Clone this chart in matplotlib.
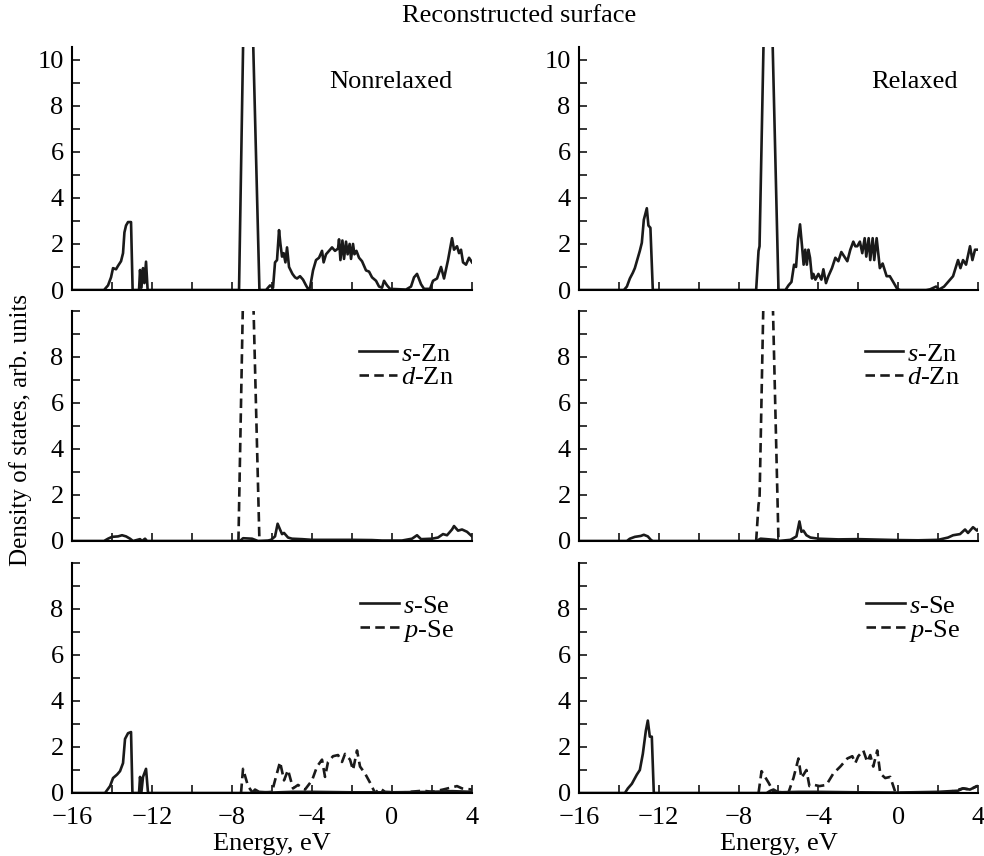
import numpy as np
import matplotlib
matplotlib.use("Agg")
import matplotlib.pyplot as plt
from matplotlib.ticker import MultipleLocator

plt.rcParams["font.family"] = ["Liberation Serif", "DejaVu Serif"]
plt.rcParams["mathtext.fontset"] = "custom"
plt.rcParams["mathtext.rm"] = "Liberation Serif"
plt.rcParams["mathtext.it"] = "Liberation Serif:italic"
plt.rcParams["font.size"] = 19

# (energy eV, DOS)
total_nonrel = np.array([
    (-16, 0), (-14.4, 0), (-14.2, 0.2), (-14.05, 0.55), (-13.95, 0.95), (-13.8, 0.9), (-13.7, 1.05),
    (-13.55, 1.25), (-13.45, 1.6), (-13.38, 2.5), (-13.3, 2.8), (-13.2, 2.95), (-13.05, 2.95),
    (-12.97, 0), (-12.65, 0), (-12.6, 0.87), (-12.53, 0.1), (-12.45, 0.95), (-12.38, 0.3),
    (-12.3, 1.23), (-12.22, 0), (-7.65, 0), (-7.42, 12), (-6.98, 12), (-6.63, 0), (-6.3, 0),
    (-6.1, 0.2), (-5.95, 0.1), (-5.85, 1.2), (-5.75, 1.3), (-5.65, 2.6), (-5.58, 2.0), (-5.5, 1.45),
    (-5.42, 1.6), (-5.33, 1.2), (-5.25, 1.85), (-5.15, 1.0), (-4.98, 0.7), (-4.85, 0.55),
    (-4.75, 0.5), (-4.6, 0.6), (-4.45, 0.45), (-4.3, 0.2), (-4.2, 0.05), (-4.1, 0.1), (-3.95, 0.85),
    (-3.8, 1.3), (-3.65, 1.4), (-3.5, 1.7), (-3.42, 1.2), (-3.3, 1.55), (-3.15, 1.7), (-3.0, 1.85),
    (-2.85, 1.7), (-2.7, 1.8), (-2.65, 2.2), (-2.58, 1.3), (-2.48, 2.15), (-2.4, 1.35), (-2.3, 2.1),
    (-2.22, 1.55), (-2.12, 2.0), (-2.05, 1.35), (-1.95, 2.0), (-1.88, 1.55), (-1.78, 1.7),
    (-1.65, 1.4), (-1.5, 1.25), (-1.3, 0.85), (-1.15, 0.8), (-1.0, 0.55), (-0.8, 0.4), (-0.65, 0.15),
    (-0.5, 0.1), (-0.4, 0.4), (-0.25, 0.2), (-0.1, 0.05), (0.7, 0.02), (0.95, 0.15), (1.1, 0.55),
    (1.25, 0.7), (1.45, 0.25), (1.6, 0.05), (1.9, 0.05), (2.05, 0.4), (2.25, 0.5), (2.45, 1.0),
    (2.6, 0.5), (2.8, 1.3), (3.0, 2.25), (3.1, 1.75), (3.25, 1.9), (3.35, 1.6), (3.45, 1.75),
    (3.55, 1.2), (3.7, 1.1), (3.85, 1.4), (4.0, 1.2)])

total_rel = np.array([
    (-16, 0), (-13.75, 0), (-13.6, 0.15), (-13.45, 0.5), (-13.3, 0.75), (-13.2, 0.95), (-13.05, 1.4),
    (-12.95, 1.7), (-12.85, 2.05), (-12.75, 3.05), (-12.6, 3.55), (-12.52, 2.8), (-12.42, 2.7),
    (-12.3, 0), (-7.12, 0), (-7.0, 1.7), (-6.95, 1.9), (-6.72, 12), (-6.33, 12), (-6.0, 0),
    (-5.65, 0), (-5.5, 0.2), (-5.35, 0.35), (-5.22, 1.1), (-5.12, 1.0), (-5.02, 2.2), (-4.92, 2.85),
    (-4.82, 1.9), (-4.74, 1.1), (-4.66, 1.75), (-4.58, 1.1), (-4.5, 1.75), (-4.42, 1.4),
    (-4.32, 0.5), (-4.25, 0.7), (-4.15, 0.45), (-4.0, 0.7), (-3.85, 0.45), (-3.75, 0.9),
    (-3.62, 0.3), (-3.5, 0.6), (-3.32, 0.95), (-3.15, 1.4), (-3.0, 1.25), (-2.85, 1.65),
    (-2.7, 1.45), (-2.55, 1.25), (-2.4, 1.75), (-2.25, 2.1), (-2.15, 1.9), (-2.05, 1.9),
    (-1.92, 2.1), (-1.8, 1.6), (-1.68, 2.25), (-1.6, 1.45), (-1.48, 2.25), (-1.4, 1.3),
    (-1.28, 2.25), (-1.2, 1.3), (-1.08, 2.25), (-0.92, 0.95), (-0.78, 1.15), (-0.58, 0.6),
    (-0.42, 0.6), (-0.25, 0.35), (-0.05, 0.05), (0.1, 0), (1.4, 0), (1.6, 0.03), (1.9, 0.15),
    (2.05, 0.02), (2.3, 0.15), (2.5, 0.35), (2.75, 0.6), (3.0, 1.3), (3.12, 0.95), (3.25, 1.3),
    (3.4, 1.1), (3.6, 1.9), (3.72, 1.3), (3.85, 1.75), (4.0, 1.75)])

s_zn_nonrel = np.array([
    (-16, 0), (-14.4, 0), (-14.2, 0.1), (-14.0, 0.18), (-13.7, 0.2), (-13.5, 0.25), (-13.3, 0.2),
    (-13.1, 0.1), (-12.95, 0), (-12.6, 0.08), (-12.5, 0), (-12.35, 0.1), (-12.25, 0), (-7.6, 0),
    (-7.45, 0.12), (-7.0, 0.1), (-6.7, 0), (-6.2, 0.02), (-6.05, 0.05), (-5.85, 0.2), (-5.72, 0.75),
    (-5.6, 0.5), (-5.5, 0.3), (-5.4, 0.35), (-5.2, 0.15), (-5.0, 0.1), (-4.5, 0.08), (-4.0, 0.05),
    (-2.0, 0.05), (-1.0, 0.04), (-0.5, 0.02), (0.5, 0.02), (1.0, 0.1), (1.25, 0.25), (1.45, 0.08),
    (2.0, 0.1), (2.3, 0.15), (2.55, 0.3), (2.75, 0.25), (3.0, 0.5), (3.1, 0.65), (3.3, 0.45),
    (3.5, 0.5), (3.75, 0.4), (4.0, 0.2)])
d_zn_nonrel = np.array([(-7.68, 0), (-7.42, 12), (-6.98, 12), (-6.63, 0)])

s_zn_rel = np.array([
    (-16, 0), (-13.6, 0), (-13.45, 0.1), (-13.2, 0.18), (-12.9, 0.22), (-12.75, 0.27),
    (-12.55, 0.2), (-12.4, 0.05), (-12.3, 0), (-7.1, 0), (-6.9, 0.1), (-6.6, 0.08), (-6.2, 0.05),
    (-6.0, 0), (-5.4, 0.05), (-5.1, 0.2), (-4.95, 0.85), (-4.85, 0.4), (-4.75, 0.45), (-4.6, 0.25),
    (-4.4, 0.15), (-4.0, 0.1), (-3.0, 0.07), (-2.0, 0.08), (-1.0, 0.06), (0.0, 0.04), (1.0, 0.03),
    (2.0, 0.05), (2.5, 0.15), (2.75, 0.25), (3.1, 0.3), (3.35, 0.5), (3.5, 0.35), (3.6, 0.45),
    (3.75, 0.6), (3.95, 0.45), (4.0, 0.5)])
d_zn_rel = np.array([(-7.12, 0), (-7.0, 1.6), (-6.95, 1.8), (-6.72, 12), (-6.33, 12), (-6.0, 0)])

s_se_nonrel = np.array([
    (-16, 0), (-14.35, 0), (-14.1, 0.3), (-13.95, 0.65), (-13.75, 0.8), (-13.6, 0.95),
    (-13.45, 1.3), (-13.35, 2.35), (-13.2, 2.6), (-13.05, 2.65), (-12.98, 0), (-12.65, 0),
    (-12.6, 0.7), (-12.53, 0.05), (-12.45, 0.7), (-12.3, 1.05), (-12.2, 0), (-7.0, 0),
    (-6.85, 0.15), (-6.65, 0.05), (-6.0, 0.02), (-5.0, 0.05), (-4.0, 0.05), (-2.0, 0.03),
    (0.0, 0.03), (2.0, 0.05), (3.0, 0.08), (4.0, 0.05)])
p_se_nonrel = np.array([
    (-7.55, 0), (-7.45, 1.05), (-7.2, 0.3), (-7.0, 0.05), (-6.5, 0.02), (-6.0, 0.05),
    (-5.85, 0.55), (-5.6, 1.35), (-5.4, 0.55), (-5.2, 1.0), (-4.95, 0.2), (-4.7, 0.35),
    (-4.35, 0.15), (-4.0, 0.55), (-3.75, 1.15), (-3.5, 1.45), (-3.35, 0.7), (-3.2, 1.35),
    (-2.95, 1.6), (-2.7, 1.65), (-2.5, 1.35), (-2.35, 1.7), (-2.1, 1.45), (-1.95, 1.0),
    (-1.75, 1.85), (-1.6, 1.15), (-1.35, 0.85), (-1.1, 0.45), (-0.85, 0.0), (-0.6, 0.2),
    (-0.35, 0.05), (0.5, 0.02), (1.55, 0.1), (2.0, 0.05), (2.55, 0.15), (3.25, 0.3), (3.5, 0.2),
    (4.0, 0.15)])

s_se_rel = np.array([
    (-16, 0), (-13.7, 0), (-13.55, 0.2), (-13.35, 0.4), (-13.1, 0.8), (-12.95, 1.0), (-12.8, 1.7),
    (-12.65, 2.7), (-12.55, 3.15), (-12.45, 2.45), (-12.35, 2.45), (-12.25, 0), (-6.6, 0),
    (-6.4, 0.1), (-6.25, 0.15), (-6.0, 0.03), (-5.0, 0.05), (-4.0, 0.05), (-2.0, 0.03), (0.0, 0.02),
    (2.0, 0.05), (3.0, 0.1), (3.25, 0.2), (3.6, 0.15), (3.95, 0.3), (4.0, 0.3)])
p_se_rel = np.array([
    (-7.0, 0), (-6.85, 0.95), (-6.5, 0.45), (-6.25, 0.05), (-5.5, 0.02), (-5.25, 0.65),
    (-5.0, 1.5), (-4.85, 0.65), (-4.6, 1.0), (-4.45, 0.3), (-4.2, 0.35), (-3.95, 0.3),
    (-3.6, 0.35), (-3.25, 0.85), (-2.9, 1.15), (-2.55, 1.5), (-2.3, 1.6), (-2.15, 1.3),
    (-2.0, 1.6), (-1.75, 1.85), (-1.55, 1.35), (-1.4, 1.65), (-1.25, 1.15), (-1.05, 1.85),
    (-0.9, 0.85), (-0.65, 0.65), (-0.4, 0.7), (-0.15, 0.05), (0.1, 0), (2.5, 0.02), (3.25, 0.2),
    (3.6, 0.15), (3.95, 0.3)])

panel_titles = ["Nonrelaxed", "Relaxed"]
zn_labels = ["$\\it{s}$-Zn", "$\\it{d}$-Zn"]
se_labels = ["$\\it{s}$-Se", "$\\it{p}$-Se"]

fig = plt.figure(figsize=(9.84, 8.56), dpi=100)

col_x = [0.0732, 0.5884]
col_w = [0.4065, 0.4055]
row_b = [0.6612, 0.368, 0.0736]
row_h = [0.2839, 0.2687, 0.2687]

lw = 1.9
dash = (0, (3.6, 2.0))
fs = 19

for c in range(2):
    axes = []
    for r in range(3):
        ax = fig.add_axes([col_x[c], row_b[r], col_w[c], row_h[r]])
        ax.set_xlim(-16, 4)
        ax.set_ylim(0, 10.55 if r == 0 else 10)
        for s in ["top", "right"]:
            ax.spines[s].set_visible(False)
        for s in ["left", "bottom"]:
            ax.spines[s].set_linewidth(1.5)
        ax.xaxis.set_major_locator(MultipleLocator(4))
        ax.xaxis.set_minor_locator(MultipleLocator(2))
        if r == 0:
            ax.set_yticks([0, 2, 4, 6, 8, 10])
        else:
            ax.set_yticks([0, 2, 4, 6, 8])
        ax.yaxis.set_minor_locator(MultipleLocator(1))
        ax.tick_params(which="both", direction="in", length=6, width=1.1, labelsize=fs)
        ax.tick_params(axis="y", pad=6)
        ax.tick_params(axis="x", pad=10)
        if r < 2:
            ax.tick_params(labelbottom=False)
        axes.append(ax)

    tot = [total_nonrel, total_rel][c]
    axes[0].plot(tot[:, 0], tot[:, 1], color="#1a1a1a", lw=lw)
    axes[0].text(0.95, 0.858, panel_titles[c], transform=axes[0].transAxes,
                 ha="right", va="center", fontsize=fs)

    s_zn = [s_zn_nonrel, s_zn_rel][c]
    d_zn = [d_zn_nonrel, d_zn_rel][c]
    axes[1].plot(s_zn[:, 0], s_zn[:, 1], color="#1a1a1a", lw=lw, label=zn_labels[0])
    axes[1].plot(d_zn[:, 0], d_zn[:, 1], color="#1a1a1a", lw=lw, ls=dash, label=zn_labels[1])

    s_se = [s_se_nonrel, s_se_rel][c]
    p_se = [p_se_nonrel, p_se_rel][c]
    axes[2].plot(s_se[:, 0], s_se[:, 1], color="#1a1a1a", lw=lw, label=se_labels[0])
    axes[2].plot(p_se[:, 0], p_se[:, 1], color="#1a1a1a", lw=lw, ls=dash, label=se_labels[1])

    for ax in axes[1:]:
        ax.legend(loc="upper right", bbox_to_anchor=(1.0, 0.945), frameon=False, fontsize=fs,
                  handlelength=1.45, handletextpad=0.15, labelspacing=0.0, borderaxespad=0.3)

    axes[2].set_xlabel("Energy, eV", fontsize=fs, labelpad=3)

fig.text(0.528, 0.981, "Reconstructed surface", ha="center", va="center", fontsize=fs)
fig.text(0.021, 0.498, "Density of states, arb. units", rotation=90,
         ha="center", va="center", fontsize=18)

fig.savefig("out.png", dpi=100)
